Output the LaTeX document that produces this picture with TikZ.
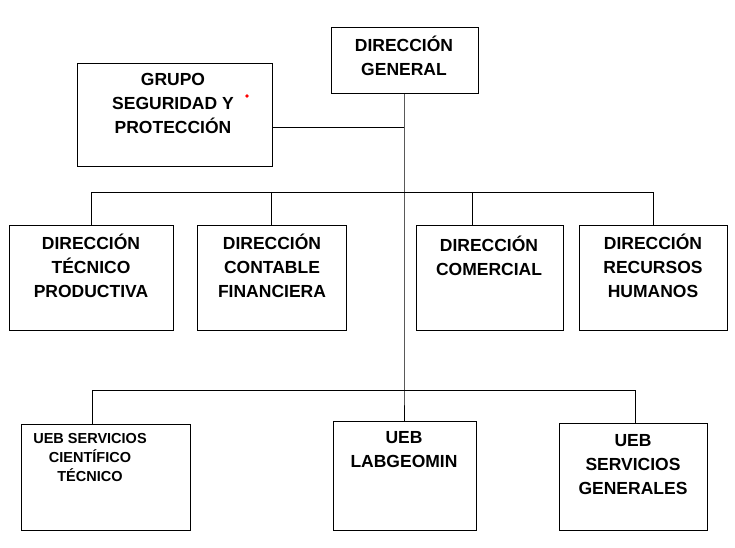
\documentclass[tikz,border=0pt]{standalone}
\usepackage{fontspec}
\setmainfont{Liberation Sans}
\begin{document}
\begin{tikzpicture}[x=1pt,y=-1pt,
 box/.style={draw=black,line width=0.8pt,inner sep=0pt},
 txt/.style={font=\bfseries\fontsize{17.5}{24}\selectfont,align=center,inner sep=0pt},
 stxt/.style={font=\bfseries\fontsize{14.5}{19}\selectfont,align=center,inner sep=0pt},
 ln/.style={line width=0.8pt}]
\useasboundingbox (0,0) rectangle (735,547);
\newcommand{\bx}[5]{\node[box,minimum width=#3-#1,minimum height=#4-#2] (#5) at ({(#1+#3)/2},{(#2+#4)/2}) {};}
\bx{331}{27}{478}{93}{gen}
\bx{77}{63}{272}{166}{gru}
\bx{9}{225}{173}{330}{tec}
\bx{197}{225}{346}{330}{con}
\bx{416}{225}{563}{330}{com}
\bx{579}{225}{727}{330}{rh}
\bx{21}{424}{190}{530}{sct}
\bx{333}{421}{476}{530}{lab}
\bx{559}{423}{707}{530}{sg}
\node[txt] (tgen) at (404,56) {DIRECCIÓN\\GENERAL};
\node[txt] (tgru) at (173,103) {GRUPO\\SEGURIDAD Y\\PROTECCIÓN};
\fill[red] (247,96) circle (1.8);
\node[txt] (ttec) at (91,266) {DIRECCIÓN\\TÉCNICO\\PRODUCTIVA};
\node[txt] (tcon) at (272,266) {DIRECCIÓN\\CONTABLE\\FINANCIERA};
\node[txt] (tcom) at (489,256) {DIRECCIÓN\\COMERCIAL};
\node[txt] (trh) at (653,266) {DIRECCIÓN\\RECURSOS\\HUMANOS};
\node[stxt] (tsct) at (90,457) {UEB SERVICIOS\\CIENTÍFICO\\TÉCNICO};
\node[txt] (tlab) at (404,450) {UEB\\LABGEOMIN};
\node[txt] (tsg) at (633,465) {UEB\\SERVICIOS\\GENERALES};
\coordinate (j1) at (404,127);
\coordinate (j2) at (404,192);
\coordinate (j3) at (404,390);
\draw[ln] (gen.south -| j1) -- (j3) -- (lab.north -| j3);
\draw[ln] (gru.east |- j1) -- (j1);
\draw[ln] (tec.north) -- (tec.north |- j2) -- (rh.north |- j2) -- (rh.north);
\draw[ln] (con.north) -- (con.north |- j2);
\draw[ln] (com.north -| 472,0) -- (472,192);
\draw[ln] (sct.north -| 92,0) -- (92,390) -- (635,390) -- (sg.north -| 635,0);
\end{tikzpicture}
\end{document}
